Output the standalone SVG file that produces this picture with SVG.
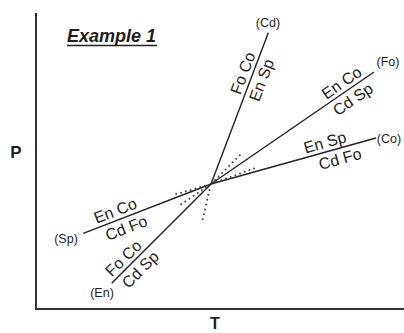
<svg xmlns="http://www.w3.org/2000/svg" width="404" height="333" viewBox="0 0 404 333">
<style>
.ax{stroke:#333;stroke-width:2;fill:none}
.ln{stroke:#222;stroke-width:1.4;fill:none}
.dt{stroke:#444;stroke-width:2;stroke-dasharray:0 5;stroke-linecap:round;fill:none}
text{font-family:"Liberation Sans",Arial,sans-serif;fill:#1e1e1e}
.lb{font-size:16px;text-anchor:middle}
.ep{font-size:12.5px;text-anchor:middle}
.axl{font-size:17px;font-weight:bold;text-anchor:middle}
</style>
<rect width="404" height="333" fill="#fff"/>
<g id="axes">
<path class="ax" d="M36 13 V309 H404"/>
<text class="axl" x="16" y="158">P</text>
<text class="axl" x="215" y="329" style="font-size:16px">T</text>
</g>
<g id="title">
<text x="67" y="42" style="font-size:18px;font-weight:bold;font-style:italic">Example 1</text>
<line x1="67" y1="45.5" x2="157" y2="45.5" stroke="#1e1e1e" stroke-width="1.3"/>
</g>
<g id="connectors">
<line class="ln" x1="211" y1="184" x2="268.3" y2="32.7"/>
<line class="ln" x1="211" y1="184" x2="374" y2="72"/>
<line class="ln" x1="211" y1="184" x2="376" y2="138"/>
<line class="ln" x1="211" y1="184" x2="83.3" y2="233.3"/>
<line class="ln" x1="211" y1="184" x2="111.7" y2="283.3"/>
<line class="dt" x1="209.5" y1="190" x2="202" y2="222"/>
<line class="dt" x1="206" y1="187.5" x2="177" y2="207"/>
<line class="dt" x1="205" y1="185.7" x2="173" y2="195"/>
<line class="dt" x1="216.5" y1="182" x2="258" y2="167"/>
<line class="dt" x1="215" y1="180" x2="243" y2="152"/>
</g>
<g id="cd-line">
<text class="ep" x="268" y="27">(Cd)</text>
<g transform="translate(251.7 76.5) rotate(-69.3)"><text class="lb" y="-4">Fo Co</text><text class="lb" y="16">En Sp</text></g>
</g>
<g id="fo-line">
<text class="ep" x="388" y="66">(Fo)</text>
<g transform="translate(347 90.6) rotate(-34.5)"><text class="lb" y="-4">En Co</text><text class="lb" y="16">Cd Sp</text></g>
</g>
<g id="co-line">
<text class="ep" x="389" y="143">(Co)</text>
<g transform="translate(327.5 151.5) rotate(-15.6)"><text class="lb" y="-4">En Sp</text></g>
<g transform="translate(337.2 148.8) rotate(-15.6)"><text class="lb" y="16">Cd Fo</text></g>
</g>
<g id="sp-line">
<text class="ep" x="66" y="243">(Sp)</text>
<g transform="translate(118.8 219.6) rotate(-21.1)"><text class="lb" y="-4">En Co</text></g>
<g transform="translate(122.5 218.2) rotate(-21.1)"><text class="lb" y="16">Cd Fo</text></g>
</g>
<g id="en-line">
<text class="ep" x="102" y="297">(En)</text>
<g transform="translate(130.1 264.9) rotate(-45)"><text class="lb" y="-4">Fo Co</text></g>
<g transform="translate(132.9 262.1) rotate(-45)"><text class="lb" y="16">Cd Sp</text></g>
</g>
</svg>
